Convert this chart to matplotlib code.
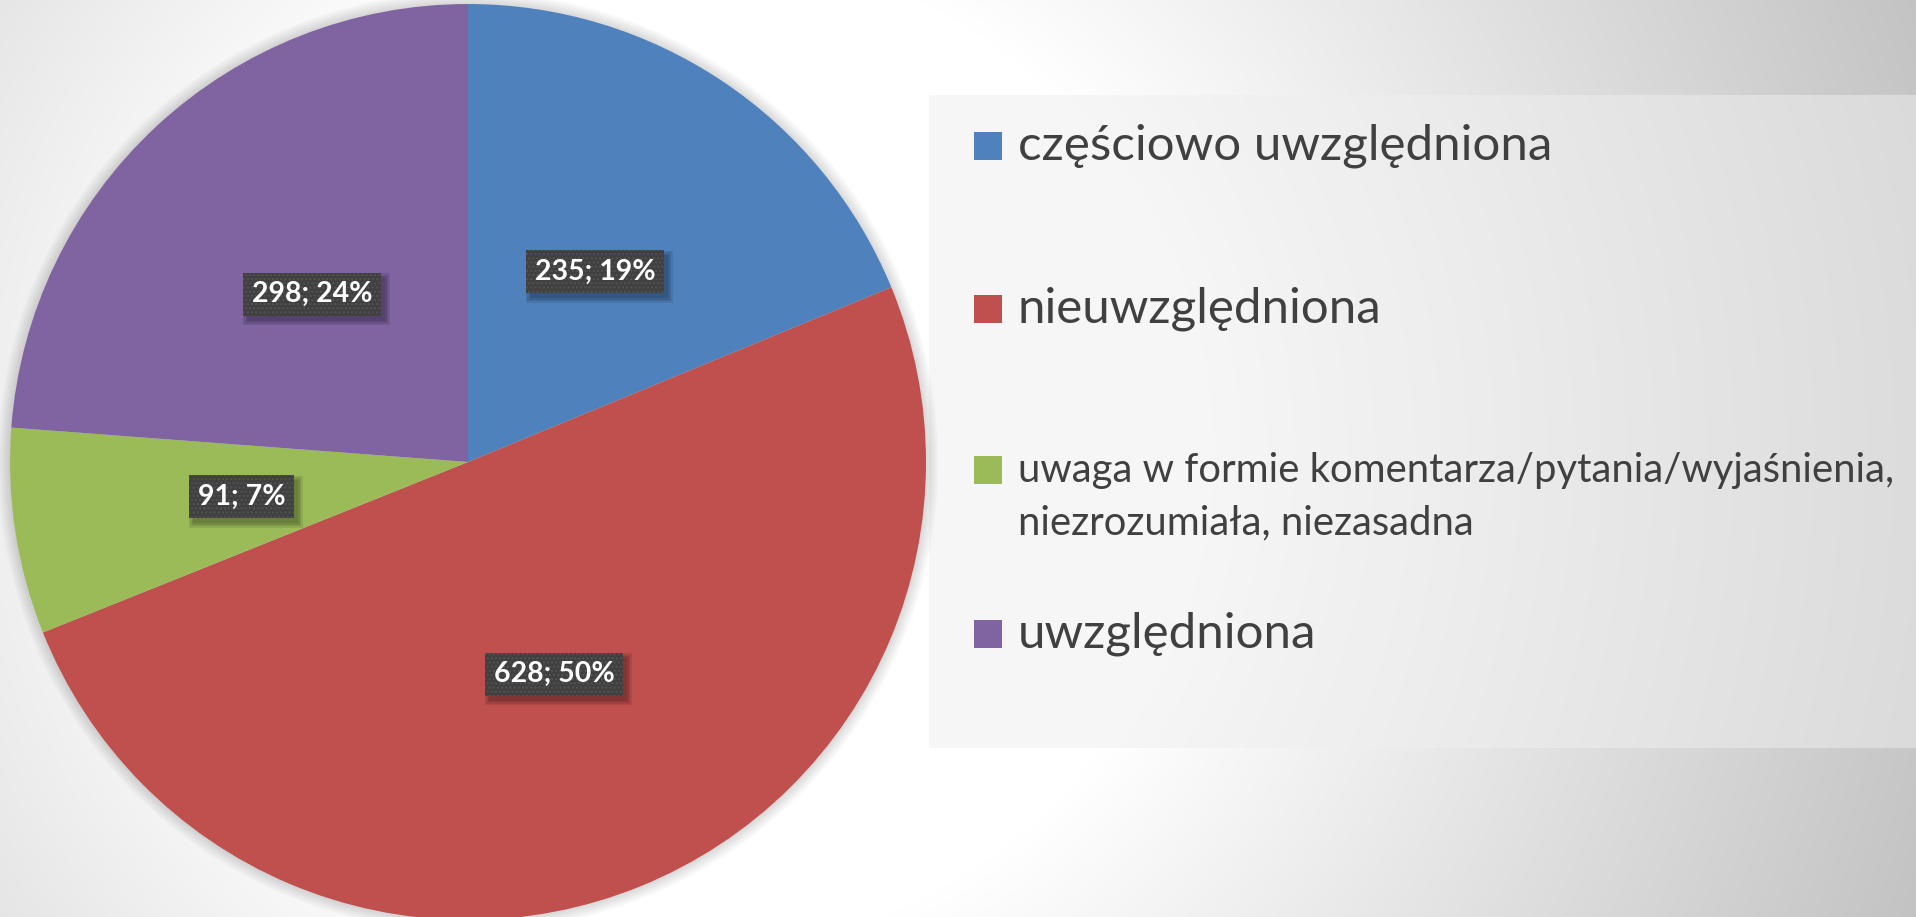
import matplotlib
matplotlib.use("Agg")
import matplotlib.pyplot as plt
import numpy as np
from matplotlib.patches import Rectangle, Circle

plt.rcParams["font.family"] = ["Lato", "DejaVu Sans"]

categories = [
    "częściowo uwzględniona",
    "nieuwzględniona",
    "uwaga w formie komentarza/pytania/wyjaśnienia,\nniezrozumiała, niezasadna",
    "uwzględniona",
]
values = [235, 628, 91, 298]
colors = ["#4F81BD", "#C0504D", "#9BBB59", "#8064A2"]

W, H = 1916, 917
fig = plt.figure(figsize=(W / 100, H / 100), dpi=100)
ax = fig.add_axes([0, 0, 1, 1])


def Y(y):
    # top-down pixel row -> axes y
    return H - y


# background: soft radial gradient, white around the middle, grey at edges
yy, xx = np.mgrid[0:H, 0:W]
d = np.hypot(xx - 700, yy - 450)
bg = 255 - 0.075 * np.clip(d - 500, 0, None)
bg = np.clip(bg, 0, 255) / 255.0
ax.imshow(np.dstack([bg, bg, bg]), extent=(0, W, 0, H), origin="upper", zorder=0)

# legend panel
ax.add_patch(Rectangle((929, Y(748)), W - 929, 748 - 95, facecolor="#efefef",
                       alpha=0.5, edgecolor="none", zorder=1))

cx, cy, r = 468, Y(462), 458

# faint glow/shadow around the pie
for k in range(1, 7):
    ax.add_patch(Circle((cx, cy), r + 2 * k, facecolor="#000000", alpha=0.025,
                        edgecolor="none", zorder=1))

total = sum(values)
wedges, texts, autotexts = ax.pie(
    values,
    colors=colors,
    startangle=90,
    counterclock=False,
    center=(cx, cy),
    radius=r,
    autopct=lambda p: f"{round(p * total / 100)}; {p:.0f}%",
    pctdistance=0.5,
    wedgeprops=dict(linewidth=0),
    frame=True,
)
ax.set_xlim(0, W)
ax.set_ylim(0, H)
ax.set_aspect("equal")
ax.axis("off")

for t in autotexts:
    t.set_fontsize(20.5)
    t.set_fontweight("bold")
    t.set_color("white")
    t.set_zorder(6)
    t.set_bbox(dict(boxstyle="square,pad=0.3", facecolor="#404040",
                    edgecolor="#535353", linewidth=0))
    t.get_bbox_patch().set_hatch("....")

# soft drop shadow under the label boxes (built from the drawn box extents)
fig.canvas.draw()
inv = ax.transData.inverted()
for t in autotexts:
    ext = t.get_bbox_patch().get_window_extent()
    (x0, y0), (x1, y1) = inv.transform([[ext.x0, ext.y0], [ext.x1, ext.y1]])
    for k in range(4):
        g = 1.5 * k
        ax.add_patch(Rectangle((x0 + 4 - g, y0 - 5 - g), (x1 - x0) + 2 * g,
                               (y1 - y0) + 2 * g, facecolor="black", alpha=0.09,
                               edgecolor="none", zorder=5))

# legend entries
sq = 28
entry_y = [146, 309, 470, 634]
sizes = [35.5, 35.5, 28.8, 35.5]
line_gap = 53
for lab, col, ey, fs in zip(categories, colors, entry_y, sizes):
    ax.add_patch(Rectangle((974, Y(ey) - sq / 2), sq, sq, facecolor=col,
                           edgecolor="none", zorder=3))
    n = lab.count("\n")
    ax.text(1018, Y(ey + n * line_gap / 2), lab, fontsize=fs, color="#404040",
            ha="left", va="center", linespacing=1.52, zorder=3)

fig.savefig("out.png", dpi=100)
